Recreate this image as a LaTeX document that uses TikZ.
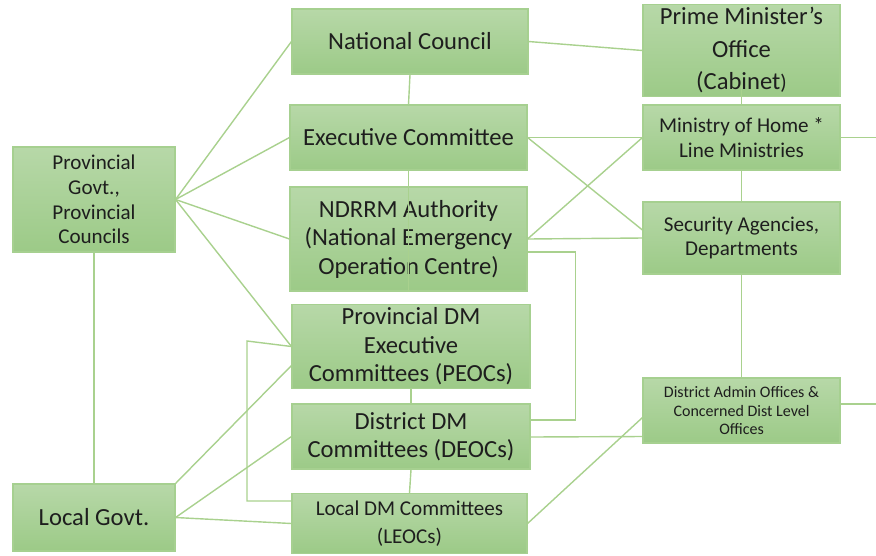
\documentclass[tikz,border=0pt]{standalone}
\usepackage{fontspec}
\setmainfont{Carlito}
\usepackage{tikz}
\usetikzlibrary{positioning,backgrounds}
\definecolor{boxtop}{HTML}{B7D8A8}
\definecolor{boxbot}{HTML}{9CCA87}
\definecolor{boxedge}{HTML}{A6D090}
\definecolor{link}{HTML}{A9D18E}
\definecolor{ink}{HTML}{1E1E1E}

\begin{document}
\begin{tikzpicture}[
  box/.style={draw=boxedge, line width=0.6pt, top color=boxtop, bottom color=boxbot,
    align=center, inner sep=2pt, text=ink},
  big/.style={box, font=\fontsize{14}{16.2}\selectfont},
  mid/.style={box, font=\fontsize{12}{14}\selectfont},
  small/.style={box, font=\fontsize{9.1}{10.5}\selectfont},
  ln/.style={draw=link, line width=0.8pt}]
  \useasboundingbox (0,0) rectangle (17.52,-11.10);
  % left column
  \node[mid, minimum width=3.24cm, minimum height=2.10cm] (prov) at (1.88,-3.99)
    {Provincial\\Govt.,\\Provincial\\Councils};
  \node[box, font=\fontsize{14}{16}\selectfont, minimum width=3.24cm, minimum height=1.34cm]
    (local) at (1.88,-10.35) {Local Govt.};
  % middle column
  \node[big, minimum width=4.72cm, minimum height=1.30cm] (nc) at (8.20,-0.83) {National Council};
  \node[big, minimum width=4.74cm, minimum height=1.30cm] (ec) at (8.17,-2.75) {Executive Committee};
  \node[big, minimum width=4.74cm, minimum height=2.08cm] (ndrrm) at (8.17,-4.78)
    {NDRRM Authority\\(National Emergency\\Operation Centre)};
  \node[big, minimum width=4.76cm, minimum height=1.54cm] (pdm) at (8.22,-6.93)
    {Provincial DM\\Executive\\Committees (PEOCs)};
  \node[big, minimum width=4.76cm, minimum height=1.30cm] (ddm) at (8.22,-8.73)
    {District DM\\Committees (DEOCs)};
  \node[box, font=\fontsize{12}{16}\selectfont, minimum width=4.70cm, minimum height=1.20cm]
    (ldm) at (8.19,-10.47) {Local DM Committees\\(LEOCs)};
  % right column
  \node[big, font=\fontsize{14}{18.5}\selectfont, minimum width=3.94cm, minimum height=1.66cm]
    (pm) at (14.83,-1.01) {Prime Minister’s\\Office\\(Cabinet{\large)}};
  \node[mid, minimum width=3.94cm, minimum height=1.30cm] (moh) at (14.83,-2.75)
    {Ministry of Home *\\Line Ministries};
  \node[mid, minimum width=3.94cm, minimum height=1.44cm] (sec) at (14.83,-4.76)
    {Security Agencies,\\Departments};
  \node[small, minimum width=3.94cm, minimum height=1.30cm] (dao) at (14.83,-8.21)
    {District Admin Offices \&\\Concerned Dist Level\\Offices};
  \coordinate (rim) at (17.52,0);
  \coordinate (brtop) at (4.94,-6.82);
  \coordinate (brbot) at (4.94,-10.02);
  \coordinate (daoin) at ([yshift=.52cm]dao.south west);
  \begin{scope}[on background layer]
    \draw[ln] (prov.east) -- (nc.west);
    \draw[ln] (prov.east) -- (ec.west);
    \draw[ln] (prov.east) -- (ndrrm.west);
    \draw[ln] (prov.east) -- (pdm.west);
    \draw[ln] (prov.south) -- (local.north);
    \draw[ln] (local.north east) -- ([yshift=-.38cm]pdm.west);
    \draw[ln] (local.east) -- (ddm.west);
    \draw[ln] (local.east) -- (ldm.west);
    \draw[ln] (pdm.west) -- (brtop) -- (brbot) -- (brbot -| ldm.west);
    \draw[ln] (nc.south) -- (ec.north);
    \draw[ln] (pdm.south) -- (ddm.north);
    \draw[ln] (ddm.south) -- (ldm.north);
    \draw[ln] (nc.east) -- (pm.west);
    \draw[ln] (ec.east) -- (moh.west);
    \draw[ln] (ec.east) -- ([yshift=.16cm]sec.west);
    \draw[ln] (ndrrm.east) -- (moh.west);
    \draw[ln] (ndrrm.east) -- (sec.west);
    \draw[ln] ([yshift=-.26cm]ndrrm.east) -- ++(.96,0) |- ([yshift=.33cm]ddm.east);
    \draw[ln] ([yshift=-.01cm]ddm.east) -- (ddm.east -| daoin);
    \draw[ln] (ldm.east) -- (daoin);
    \draw[ln] (moh.south) -- (sec.north);
    \draw[ln] (sec.south) -- (dao.north);
    \draw[ln] (moh.east) -- (moh.east -| rim);
    \draw[ln] ([yshift=.13cm]dao.east) -- ([yshift=.13cm]dao.east -| rim);
  \end{scope}
  % these two run over the boxes
  \draw[ln] (ec.south) -- (ndrrm.south);
  \draw[ln] (moh.north) -- ([yshift=.24cm]pm.south);
\end{tikzpicture}
\end{document}
